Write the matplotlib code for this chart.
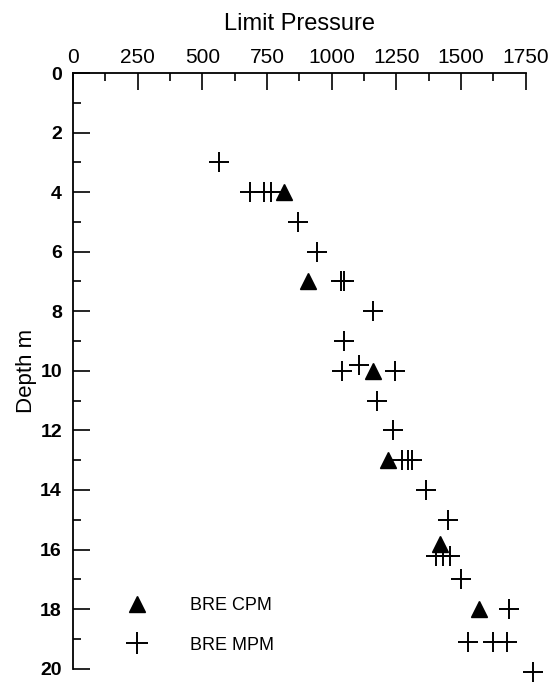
import numpy as np
import matplotlib
matplotlib.use("Agg")
import matplotlib.pyplot as plt
from matplotlib.ticker import MultipleLocator

plt.rcParams['font.family'] = ['Liberation Sans', 'DejaVu Sans']

# limit pressure vs depth, cone pressuremeter (CPM) and Menard pressuremeter (MPM)
cpm_pressure = [816, 907, 1161, 1219, 1419, 1570]
cpm_depth = [4.0, 7.0, 10.0, 13.0, 15.8, 18.0]

mpm_pressure = [566, 684, 740, 764, 869, 942, 1035, 1049, 1158, 1048, 1106,
                1039, 1245, 1174, 1238, 1271, 1296, 1309, 1363, 1451, 1403,
                1432, 1457, 1499, 1687, 1526, 1625, 1677, 1777]
mpm_depth = [3.0, 4.0, 4.0, 4.0, 5.0, 6.0, 7.0, 7.0, 8.0, 9.0, 9.8,
             10.0, 10.0, 11.0, 12.0, 13.0, 13.0, 13.0, 14.0, 15.0, 16.2,
             16.2, 16.2, 17.0, 18.0, 19.1, 19.1, 19.1, 20.1]

fig = plt.figure(figsize=(5.56, 6.83), dpi=100)
ax = fig.add_axes([73 / 556, 1 - 668.7 / 683, (525.7 - 73) / 556, (668.7 - 73) / 683])

ax.plot(cpm_pressure, cpm_depth, linestyle='none', marker='^', ms=11,
        color='black', label='BRE CPM', clip_on=False)
ax.plot(mpm_pressure, mpm_depth, linestyle='none', marker='+', ms=14,
        mew=1.4, color='black', label='BRE MPM', clip_on=False)

ax.set_xlim(0, 1750)
ax.set_ylim(20, 0)

ax.xaxis.set_major_locator(MultipleLocator(250))
ax.xaxis.set_minor_locator(MultipleLocator(125))
ax.yaxis.set_major_locator(MultipleLocator(2))
ax.yaxis.set_minor_locator(MultipleLocator(1))

ax.xaxis.tick_top()
ax.xaxis.set_label_position('top')
for side in ['right', 'bottom']:
    ax.spines[side].set_visible(False)
for side in ['top', 'left']:
    ax.spines[side].set_linewidth(1.3)

ax.tick_params(axis='x', which='major', direction='in', length=12, width=1.2,
               pad=4, labelsize=15)
ax.tick_params(axis='x', which='minor', direction='in', length=6, width=1.2)
ax.tick_params(axis='y', which='major', direction='in', length=12, width=1.2,
               pad=8, labelsize=14)
ax.tick_params(axis='y', which='minor', direction='in', length=6, width=1.2)
for lbl in ax.get_yticklabels():
    lbl.set_fontweight('bold')

ax.set_xlabel('Limit Pressure', fontsize=17, labelpad=13)
ax.set_ylabel('Depth m', fontsize=16, labelpad=2)

ax.legend(loc='lower left', bbox_to_anchor=(0.093, 0.01), frameon=False,
          fontsize=13, handletextpad=2.2, labelspacing=1.25, borderpad=0,
          handlelength=1.45, markerscale=1.1)

fig.savefig('out.png', dpi=100)
